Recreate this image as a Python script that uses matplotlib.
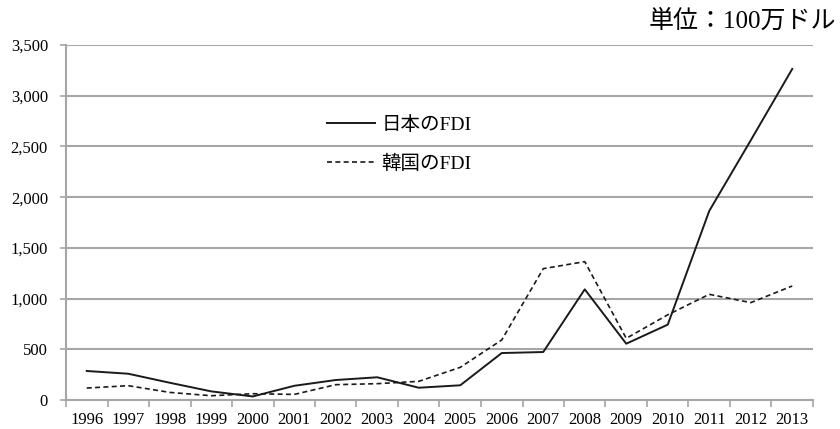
import numpy as np
import matplotlib.pyplot as plt
from matplotlib.ticker import FuncFormatter

plt.rcParams['font.family'] = ['Liberation Serif', 'Noto Sans CJK JP']

years = ['1996', '1997', '1998', '1999', '2000', '2001', '2002', '2003', '2004',
         '2005', '2006', '2007', '2008', '2009', '2010', '2011', '2012', '2013']
japan_fdi = [286, 259, 170, 85, 35, 140, 197, 224, 121,
             145, 463, 473, 1091, 555, 743, 1864, 2560, 3264]
korea_fdi = [118, 141, 75, 42, 62, 55, 151, 161, 184,
             322, 592, 1295, 1364, 608, 840, 1042, 960, 1124]

grid_col = '#a6a6a6'

fig = plt.figure(figsize=(8.4, 4.29), dpi=100)
ax = fig.add_axes([66 / 840, 1 - 400 / 429, 747 / 840, 355 / 429])

x = np.arange(len(years))
ax.plot(x, japan_fdi, color='#1a1a1a', lw=1.4, label='日本のFDI')
ax.plot(x, korea_fdi, color='#1a1a1a', lw=1.2, ls=(0, (3, 2)), label='韓国のFDI')

ax.set_xlim(-0.5, len(years) - 0.5)
ax.set_ylim(0, 3500)
ax.set_yticks(np.arange(0, 3501, 500))
ax.yaxis.set_major_formatter(FuncFormatter(lambda v, p: f'{int(v):,}'))
ax.set_xticks(x)
ax.set_xticklabels(years)
ax.set_xticks(np.arange(-0.5, len(years), 1), minor=True)
ax.tick_params(axis='x', which='major', length=0, pad=9, labelsize=12)
ax.tick_params(axis='x', which='minor', length=5, color=grid_col, width=1.2)
ax.tick_params(axis='y', length=4, color=grid_col, width=1.2, labelsize=12, pad=9)

ax.grid(axis='y', color=grid_col, lw=1.5)
ax.set_axisbelow(True)
for s in ['top', 'right']:
    ax.spines[s].set_visible(False)
for s in ['left', 'bottom']:
    ax.spines[s].set_color(grid_col)
    ax.spines[s].set_linewidth(1.5)

ax.legend(loc='center left', bbox_to_anchor=(0.349, 0.72), frameon=False,
          fontsize=14, handlelength=2.5, labelspacing=1.05, handletextpad=0.3,
          borderpad=0, borderaxespad=0)

fig.text(0.995, 0.95, '単位：100万ドル', ha='right', va='center', fontsize=18)

fig.savefig('out.png', dpi=100)
